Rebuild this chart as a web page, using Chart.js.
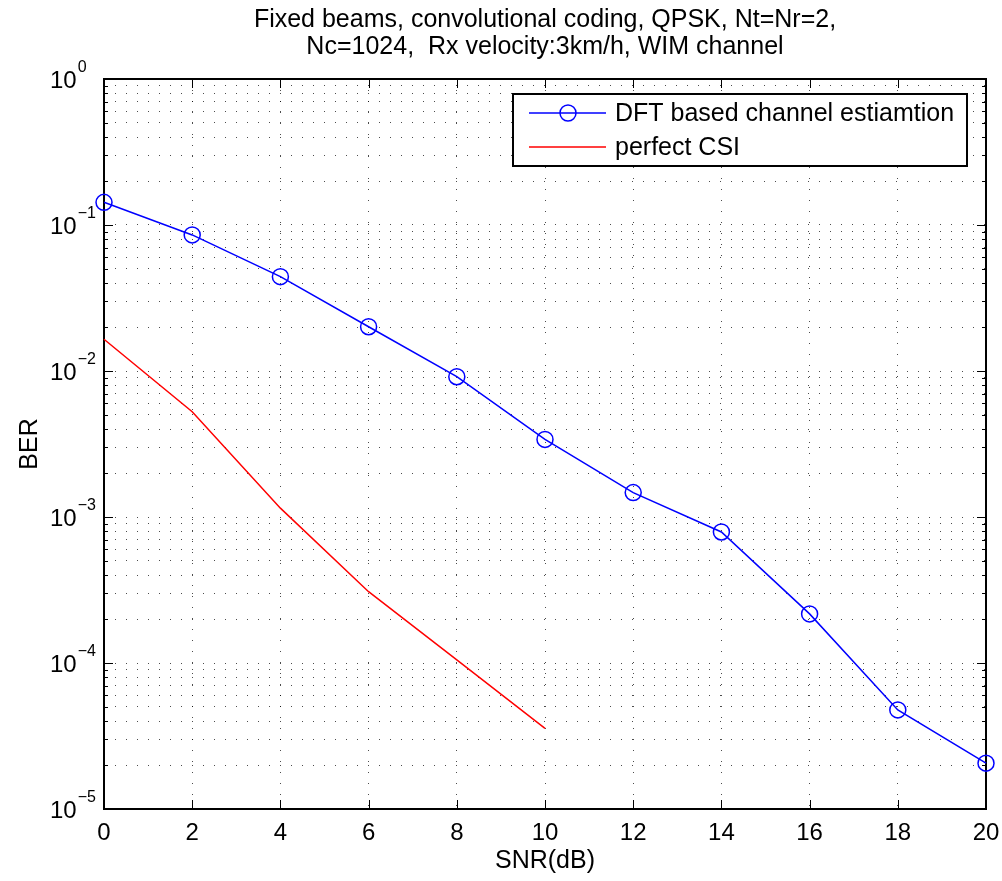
<!DOCTYPE html>
<html lang="en">
<head>
<meta charset="UTF-8">
<title>BER vs SNR</title>
<script src="https://cdn.jsdelivr.net/npm/chart.js"></script>
<style>
  html, body { margin: 0; padding: 0; background: #fff; }
  #wrap { width: 1002px; height: 881px; }
</style>
</head>
<body>
<div id="wrap"><canvas id="berChart" width="1002" height="881"></canvas></div>
<script>
  // SNR points (dB)
  const snrDb = [0, 2, 4, 6, 8, 10, 12, 14, 16, 18, 20];
  // BER with DFT based channel estimation
  const berDft = [0.143, 0.0855, 0.0443, 0.0201, 0.00914, 0.0034, 0.00147, 7.9e-4, 2.17e-4, 4.77e-5, 2.06e-5];
  // BER with perfect CSI (simulated only up to 10 dB)
  const snrCsi = [0, 2, 4, 6, 8, 10];
  const berCsi = [0.0165, 0.00526, 1.15e-3, 3.08e-4, 1.05e-4, 3.57e-5];

  // axis ticks
  const xTicks = [0, 2, 4, 6, 8, 10, 12, 14, 16, 18, 20];
  const yExponents = [-5, -4, -3, -2, -1, 0];
  const yExpLabels = ["\u22125", "\u22124", "\u22123", "\u22122", "\u22121", "0"];
  const yMantissas = [1, 2, 3, 4, 5, 6, 7, 8, 9];

  const titleLines = [
    "Fixed beams, convolutional coding, QPSK, Nt=Nr=2,",
    "Nc=1024,  Rx velocity:3km/h, WIM channel"
  ];
  const seriesLabels = ["DFT based channel estiamtion", "perfect CSI"];

  const FONT = "'Liberation Sans', Arial, Helvetica, sans-serif";
  Chart.defaults.font.family = FONT;
  Chart.defaults.color = "#000";

  // all log ticks 1..9 x 10^n, plus the top 10^0
  const yAllTicks = [];
  yExponents.slice(0, -1).forEach(e => {
    yMantissas.forEach(m => yAllTicks.push(m * Math.pow(10, e)));
  });
  yAllTicks.push(1);

  const GRID_COLOR = "rgba(0,0,0,0.7)";

  // frame + inward tick marks (matlab look)
  const framePlugin = {
    id: "frame",
    beforeDatasetsDraw(chart) {
      const { ctx, chartArea: a, scales } = chart;
      ctx.save();
      ctx.strokeStyle = "#000";
      ctx.lineWidth = 1;
      ctx.beginPath();
      xTicks.forEach(v => {
        const px = Math.round(scales.x.getPixelForValue(v)) + 0.5;
        ctx.moveTo(px, a.bottom); ctx.lineTo(px, a.bottom - 9);
        ctx.moveTo(px, a.top); ctx.lineTo(px, a.top + 9);
      });
      yAllTicks.forEach(v => {
        const py = Math.round(scales.y.getPixelForValue(v)) + 0.5;
        const major = Math.abs(Math.log10(v) - Math.round(Math.log10(v))) < 1e-9;
        const len = major ? 9 : 4;
        ctx.moveTo(a.left, py); ctx.lineTo(a.left + len, py);
        ctx.moveTo(a.right, py); ctx.lineTo(a.right - len, py);
      });
      ctx.stroke();
      ctx.lineWidth = 2;
      ctx.strokeRect(a.left, a.top, a.right - a.left, a.bottom - a.top);

      // y tick labels 10^n
      yExponents.forEach((e, i) => {
        const py = scales.y.getPixelForValue(Math.pow(10, e));
        ctx.fillStyle = "#000";
        ctx.textAlign = "left";
        ctx.textBaseline = "alphabetic";
        ctx.font = "24px " + FONT;
        ctx.fillText("10", 50, py + 9);
        const w = ctx.measureText("10").width;
        ctx.font = "16px " + FONT;
        ctx.fillText(yExpLabels[i], 50 + w + 1, py - 7);
      });
      ctx.restore();
    }
  };

  // boxed legend inside the axes, top right
  const legendBoxPlugin = {
    id: "legendBox",
    afterDraw(chart) {
      const { ctx, chartArea: a } = chart;
      const right = a.right - 19, top = a.top + 15;
      const w = 454, h = 72;
      const left = right - w;
      ctx.save();
      ctx.fillStyle = "#fff";
      ctx.fillRect(left, top, w, h);
      ctx.strokeStyle = "#000";
      ctx.lineWidth = 2;
      ctx.strokeRect(left, top, w, h);
      chart.data.datasets.forEach((ds, i) => {
        const y = top + 19 + i * 34;
        ctx.strokeStyle = ds.borderColor;
        ctx.lineWidth = 1.5;
        ctx.beginPath();
        ctx.moveTo(left + 16, y);
        ctx.lineTo(left + 93, y);
        ctx.stroke();
        if (ds.pointRadius > 0) {
          ctx.beginPath();
          ctx.arc(left + 55, y, ds.pointRadius, 0, Math.PI * 2);
          ctx.stroke();
        }
        ctx.fillStyle = "#000";
        ctx.font = "25px " + FONT;
        ctx.textAlign = "left";
        ctx.textBaseline = "middle";
        ctx.fillText(ds.label, left + 102, y + 1);
      });
      ctx.restore();
    }
  };

  const ctx = document.getElementById("berChart").getContext("2d");
  new Chart(ctx, {
    type: "line",
    data: {
      datasets: [
        {
          label: seriesLabels[0],
          data: snrDb.map((x, i) => ({ x: x, y: berDft[i] })),
          borderColor: "#0000ff",
          backgroundColor: "rgba(0,0,0,0)",
          borderWidth: 1.5,
          pointRadius: 8,
          pointBorderWidth: 1.5,
          pointBorderColor: "#0000ff",
          pointBackgroundColor: "rgba(0,0,0,0)",
          fill: false,
          tension: 0,
          clip: false
        },
        {
          label: seriesLabels[1],
          data: snrCsi.map((x, i) => ({ x: x, y: berCsi[i] })),
          borderColor: "#ff0000",
          backgroundColor: "rgba(0,0,0,0)",
          borderWidth: 1.5,
          pointRadius: 0,
          fill: false,
          tension: 0,
          clip: false
        }
      ]
    },
    options: {
      responsive: false,
      animation: false,
      devicePixelRatio: 1,
      layout: { padding: { left: 0, right: 16, top: 0, bottom: 0 } },
      plugins: {
        legend: { display: false },
        tooltip: { enabled: false },
        title: {
          display: true,
          fullSize: false,
          text: titleLines,
          color: "#000",
          font: { size: 25, weight: "normal", lineHeight: 1.08 },
          padding: { top: 7, bottom: 18 }
        }
      },
      scales: {
        x: {
          type: "linear",
          min: 0,
          max: 20,
          afterBuildTicks: s => { s.ticks = xTicks.map(v => ({ value: v })); },
          afterFit: s => { s.height = 72; s.paddingLeft = 0; s.paddingRight = 0; },
          ticks: { color: "#000", font: { size: 24 }, padding: 10, maxRotation: 0, autoSkip: false },
          grid: { color: GRID_COLOR, lineWidth: 1, drawTicks: false },
          border: { display: false, dash: [1, 10] },
          title: { display: true, text: "SNR(dB)", color: "#000", font: { size: 25 }, padding: { top: 0, bottom: 5 } }
        },
        y: {
          type: "logarithmic",
          min: 1e-5,
          max: 1,
          afterBuildTicks: s => { s.ticks = yAllTicks.map(v => ({ value: v })); },
          afterFit: s => { s.width = 104; s.paddingTop = 0; s.paddingBottom = 0; },
          ticks: { display: false, autoSkip: false },
          grid: { color: GRID_COLOR, lineWidth: 1, drawTicks: false },
          border: { display: false, dash: [1, 10] },
          title: { display: true, text: "BER", color: "#000", font: { size: 25 }, padding: { top: 15, bottom: 0 } }
        }
      }
    },
    plugins: [framePlugin, legendBoxPlugin]
  });
</script>
</body>
</html>
